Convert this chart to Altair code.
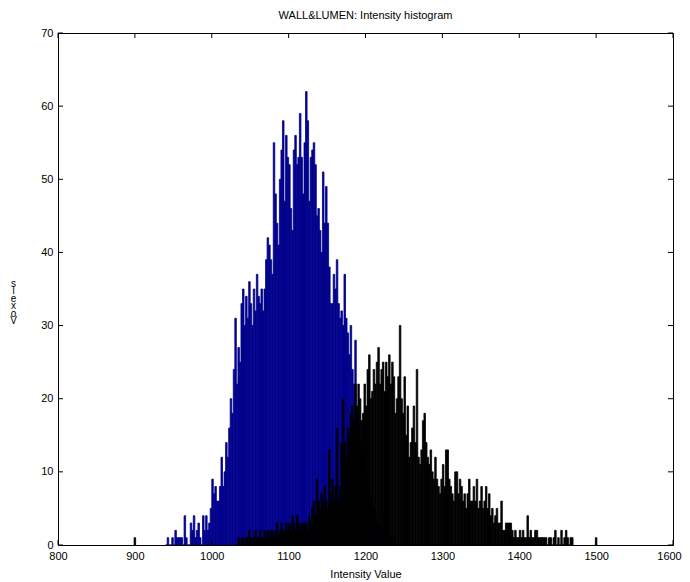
import altair as alt
import pandas as pd

chart_title = "WALL&LUMEN: Intensity histogram"
x_label = "Intensity Value"
y_label_glyphs = ["s", "l", "e", "x", "o", "V"]

bin_width = 2
wall_start = 940
wall_counts = [
    0, 1, 0, 0, 1, 0, 2, 1, 1, 1, 1, 0, 4, 1, 0, 0, 3, 2, 4, 1,
    2, 3, 1, 0, 4, 2, 4, 2, 3, 5,
    9, 7, 8, 6, 6, 8, 12, 8, 10, 14, 12, 16, 20, 18, 24, 31, 22, 27, 25, 33,
    35, 30, 34, 31, 36, 33, 30, 35, 32, 37, 34, 33, 35, 32, 35, 39, 42, 41, 39, 37,
    55, 48, 44, 41, 50, 54, 58, 47, 56, 53, 52, 46, 43, 54, 56, 52, 53, 59, 53, 48,
    55, 62, 58, 47, 53, 54, 55, 52, 45, 46, 43, 40, 51, 44, 49, 44, 38, 33, 33, 37,
    35, 39, 33, 31, 32, 30, 37, 31, 29, 26, 30, 24, 22, 28, 18, 16, 14, 13, 12, 10,
    9, 8, 7, 6, 5, 5, 4, 3, 3, 2, 2, 1, 2, 1, 1, 0, 1, 0, 1,
]
lumen_start = 1034
lumen_counts = [
    1, 0, 1, 1, 0, 1, 1, 2, 1, 1, 1, 2, 1, 1, 2, 1, 1, 2, 1, 2,
    1, 2, 2, 1, 2, 3, 1, 2, 3, 2, 2, 3, 2, 3, 2, 4, 3, 2, 4, 3,
    2, 3, 3, 3, 3, 2, 4, 3, 5, 6, 4, 9, 6, 5, 7, 6, 8, 6, 5, 13,
    7, 9, 6, 8, 16, 6, 8, 14, 20, 14, 12, 16, 15, 18, 19, 17, 22, 19, 22, 20,
    17, 18, 22, 19, 24, 26, 20, 21, 24, 22, 25, 27, 22, 24, 25, 21, 25, 23, 26, 22,
    25, 23, 18, 20, 23, 30, 20, 18, 23, 15, 19, 12, 14, 16, 19, 14, 24, 12, 11, 13,
    17, 18, 14, 12, 11, 13, 10, 9, 12, 9, 8, 7, 9, 11, 8, 13, 13, 9, 8, 7,
    6, 10, 10, 7, 9, 8, 6, 7, 5, 7, 9, 6, 6, 8, 6, 9, 5, 6, 8, 5,
    6, 8, 5, 7, 4, 5, 3, 4, 5, 3, 3, 6, 2, 2, 3, 3, 3, 3, 2, 1,
    2, 1, 1, 2, 1, 2, 1, 1, 4, 1, 2, 1, 1, 2, 2, 1, 1, 1, 1, 1,
    1, 0, 1, 1, 0, 1, 2, 0, 1, 0, 2, 0, 1, 2, 1, 0, 1, 1,
]
lumen_isolated_bins = [899, 1499]
lumen_isolated_counts = [1, 1]

x_ticks = [800, 900, 1000, 1100, 1200, 1300, 1400, 1500, 1600]
y_ticks = [0, 10, 20, 30, 40, 50, 60, 70]

wall_color = "#00008C"
lumen_color = "#000000"
font = "Liberation Sans"

W, H = 615, 512

wall_df = pd.DataFrame({
    "start": [wall_start + i * bin_width for i in range(len(wall_counts))],
    "count": wall_counts,
})
wall_df["end"] = wall_df["start"] + bin_width

lumen_bins = [lumen_start + i * bin_width for i in range(len(lumen_counts))] + lumen_isolated_bins
lumen_df = pd.DataFrame({
    "start": lumen_bins,
    "count": lumen_counts + lumen_isolated_counts,
})
lumen_df["end"] = lumen_df["start"] + bin_width

xscale = alt.Scale(domain=[800, 1600], nice=False, zero=False)
yscale = alt.Scale(domain=[0, 70], nice=False)

last_x = x_ticks[-1]
x_axis = alt.Axis(values=x_ticks, format="d", ticks=False, grid=False, labelFlush=False,
                  labelOffset={"condition": {"test": f"datum.value == {last_x}", "value": -4},
                               "value": 0},
                  labelPadding=5, titlePadding=7, zindex=1, title=x_label)
y_axis = alt.Axis(values=y_ticks, format="d", ticks=False, grid=False, labelFlush=False,
                  labelPadding=5, zindex=1, title=y_label_glyphs,
                  titleAngle=0, titleX=-45, titleY=245, titleAlign="center",
                  titleBaseline="top", titleFontSize=10, titleLineHeight=7.5)


def xenc():
    return alt.X("start:Q", scale=xscale, axis=x_axis)


def yenc():
    return alt.Y("count:Q", scale=yscale, axis=y_axis)


wall = alt.Chart(wall_df).mark_bar(color=wall_color, stroke=wall_color, strokeWidth=0.8).encode(
    x=xenc(), x2="end:Q", y=yenc(), y2=alt.datum(0),
)
lumen = alt.Chart(lumen_df).mark_bar(color=lumen_color, stroke=lumen_color, strokeWidth=0.8).encode(
    x=xenc(), x2="end:Q", y=yenc(), y2=alt.datum(0),
)

xt = pd.DataFrame({"start": x_ticks})
yt = pd.DataFrame({"count": y_ticks})
tick_bottom = alt.Chart(xt).mark_rule(color="black", strokeWidth=1).encode(
    x=xenc(), y=alt.value(H), y2=alt.value(H - 5))
tick_top = alt.Chart(xt).mark_rule(color="black", strokeWidth=1).encode(
    x=xenc(), y=alt.value(0), y2=alt.value(5))
tick_left = alt.Chart(yt).mark_rule(color="black", strokeWidth=1).encode(
    y=yenc(), x=alt.value(0), x2=alt.value(5))
tick_right = alt.Chart(yt).mark_rule(color="black", strokeWidth=1).encode(
    y=yenc(), x=alt.value(W), x2=alt.value(W - 5))

chart = alt.layer(wall, lumen, tick_bottom, tick_top, tick_left, tick_right).properties(
    width=W, height=H,
    title=alt.TitleParams(chart_title, fontSize=11, font=font, fontWeight="normal",
                          anchor="middle", offset=6, color="black"),
    autosize=alt.AutoSizeParams(type="none"),
    padding={"left": 50, "top": 25, "right": 9, "bottom": 37},
).configure_view(stroke="black", strokeWidth=1).configure_axis(
    labelFont=font, titleFont=font, labelFontSize=11, titleFontSize=11,
    titleFontWeight="normal", labelColor="black", titleColor="black",
    domainColor="black", domainWidth=1,
)

chart.save("out.html", embed_options={"renderer": "svg", "actions": False})
